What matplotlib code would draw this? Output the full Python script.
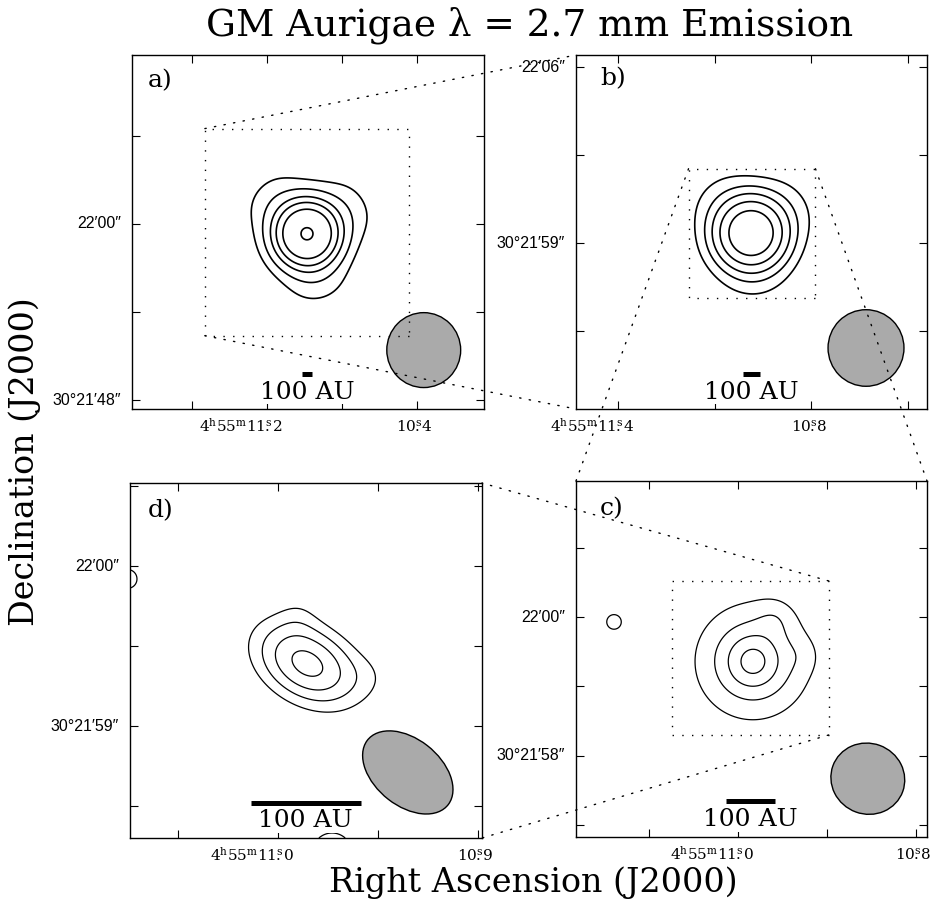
import numpy as np
import matplotlib
matplotlib.use("Agg")
import matplotlib.pyplot as plt
from matplotlib.patches import Ellipse, Rectangle, ConnectionPatch

plt.rcParams["mathtext.fontset"] = "dejavuserif"
plt.rcParams["font.family"] = "DejaVu Serif"
SERIF = "DejaVu Serif"
SANS = ["Liberation Sans", "DejaVu Sans"]

# reference position 4h55m11.0s +30d21'59"; offsets in arcsec (east, north)
ra_ref = 11.0
dec_ref = 59.0
cos_dec = np.cos(np.radians(30 + 21 / 60 + 59 / 3600))
au_bar = 100 / 140.0   # 100 AU at 140 pc
star_x = -0.18

# field of view of each panel (arcsec offsets)
xlim_a, ylim_a = [11.9, -12.4], [-11.6, 12.5]
xlim_b, ylim_b = [6.87, -7.23], [-6.61, 7.49]
xlim_c, ylim_c = [2.35, -2.75], [-2.17, 2.96]
xlim_d, ylim_d = [0.957, -1.32], [-0.70, 1.52]

# ticks: RA in seconds of 4h55m, Dec in arcsec past 30d21'
HMS = r"4$^{\mathrm{h}}$55$^{\mathrm{m}}$11"
ra_ticks_a = [11.6, 11.2, 10.8, 10.4]
ra_labels_a = {11.2: (HMS, "2"), 10.4: ("10", "4")}
dec_ticks_a = [66, 60, 54, 48]
dec_labels_a = {60: "22′00″", 48: "30°21′48″"}

ra_ticks_b = [11.4, 11.1, 10.8, 10.5]
ra_labels_b = {11.4: (HMS, "4"), 10.8: ("10", "8")}
dec_ticks_b = [66, 62.5, 59, 55.5]
dec_labels_b = {66: "22′06″", 59: "30°21′59″"}

ra_ticks_c = [11.1, 11.0, 10.9, 10.8]
ra_labels_c = {11.0: (HMS, "0"), 10.8: ("10", "8")}
dec_ticks_c = [61, 60, 59, 58, 57]
dec_labels_c = {60: "22′00″", 58: "30°21′58″"}

ra_ticks_d = [11.05, 11.0, 10.95, 10.9]
ra_labels_d = {11.0: (HMS, "0"), 10.9: ("10", "9")}
dec_ticks_d = [60.5, 60, 59.5, 59, 58.5]
dec_labels_d = {60: "22′00″", 59: "30°21′59″"}

# emission model: (amp, x0, y0, sigma_major, sigma_minor, angle)
comps_a = [(10.0, -0.18, 0.33, 1.8, 1.8, 0),
           (1.0, 2.84, 3.25, 2.2, 1.2, 134),
           (1.0, -3.78, 2.49, 2.2, 1.2, 239),
           (1.0, -1.05, -3.78, 2.2, 1.2, 348)]
levels_a = [1.45, 2.55, 3.85, 5.05, 6.55, 9.75]

comps_b = [(10.0, -0.16, 0.40, 1.15, 1.15, 0),
           (0.67, 1.66, 2.26, 1.35, 0.75, 135.6),
           (0.67, -2.30, 1.87, 1.35, 0.75, 235.5),
           (0.55, -0.37, -2.10, 1.35, 0.75, 355)]
levels_b = [1.62, 2.8, 4.05, 5.6, 7.45]

comps_c = [(1.85, -0.22, 0.36, 0.274, 0.274, 0),
           (3.57, -0.22, 0.36, 0.775, 0.775, 0),
           (0.65, -0.55, 1.00, 0.20, 0.20, 0),
           (0.35, -0.95, 0.45, 0.18, 0.18, 0),
           (2.8, 1.80, 0.93, 0.12, 0.12, 0)]
levels_c = [2, 3, 4, 5]

comps_d = [(5.34, -0.19, 0.39, 0.29, 0.19, 28),
           (0.6, -0.64, 0.32, 0.12, 0.12, 0),
           (0.6, -0.14, 0.73, 0.10, 0.10, 0),
           (2.7, 0.97, 0.92, 0.075, 0.075, 0),
           (2.8, -0.35, -0.80, 0.16, 0.16, 0)]
levels_d = [2, 3, 4, 5]

# synthesized beams: (x, y, major, minor, angle)
beam_a = (-8.24, -7.59, 5.1, 5.1, 0)
beam_b = (-4.78, -4.18, 3.05, 3.05, 0)
beam_c = (-1.89, -1.33, 1.08, 1.02, 20)
beam_d = (-0.84, -0.29, 0.66, 0.42, 37)


def ra_x(sec):
    return (np.asarray(sec, float) - ra_ref) * 15 * cos_dec


def dec_y(arcsec):
    return np.asarray(arcsec, float) - dec_ref


def sky(X, Y, comps):
    Z = np.zeros_like(X)
    for amp, x0, y0, smaj, smin, ang in comps:
        t = np.radians(ang)
        u = (X - x0) * np.cos(t) + (Y - y0) * np.sin(t)
        v = -(X - x0) * np.sin(t) + (Y - y0) * np.cos(t)
        Z += amp * np.exp(-0.5 * (u ** 2 / smaj ** 2 + v ** 2 / smin ** 2))
    return Z


W, H = 933, 907
fig = plt.figure(figsize=(W / 100, H / 100), dpi=100)


def rect(l, t, r, b):
    return [l / W, 1 - b / H, (r - l) / W, (b - t) / H]


def panel(r, xlim, ylim, comps, levels, lw, beam, ra_ticks, ra_labels,
          dec_ticks, dec_labels, tag, tag_xy):
    ax = fig.add_axes(r)
    x = np.linspace(min(xlim), max(xlim), 400)
    y = np.linspace(min(ylim), max(ylim), 400)
    X, Y = np.meshgrid(x, y)
    ax.contour(X, Y, sky(X, Y, comps), levels=levels, colors="k",
               linewidths=lw, linestyles="solid")
    bx, by, bw, bh, ba = beam
    ax.add_patch(Ellipse((bx, by), bw, bh, angle=ba, fc="#aaaaaa",
                         ec="k", lw=1.0))
    ax.set_xlim(xlim)
    ax.set_ylim(ylim)
    ax.set_xticks(ra_x(ra_ticks))
    ax.set_yticks(dec_y(dec_ticks))
    ax.tick_params(direction="in", top=True, right=True, length=5.5,
                   width=0.8, labelbottom=False, labelleft=False)
    for s in ax.spines.values():
        s.set_linewidth(1.0)

    # "11s.2" style: seconds mark raised above the decimal point
    for sec, (head, frac) in ra_labels.items():
        label = head + r"$^{\mathrm{s}}\!\!\!.$" + frac
        ax.annotate(label, xy=(ra_x(sec), 0), xycoords=("data", "axes fraction"),
                    xytext=(11.5, -16.5), textcoords="offset points",
                    ha="right", va="baseline", family=SERIF, fontsize=11,
                    annotation_clip=False)
    for dec, txt in dec_labels.items():
        ax.annotate(txt, xy=(0, dec_y(dec)), xycoords=("axes fraction", "data"),
                    xytext=(-8, 0), textcoords="offset points", ha="right",
                    va="center", family=SANS, fontsize=11.5,
                    annotation_clip=False)

    tr = ax.get_xaxis_transform()
    ax.plot([star_x - au_bar / 2, star_x + au_bar / 2], [0.1, 0.1],
            transform=tr, color="k", lw=3.6, solid_capstyle="butt")
    ax.text(star_x, 0.048, "100 AU", transform=tr, ha="center", va="center",
            fontsize=18, bbox=dict(fc="white", ec="none", pad=0.5))
    ax.text(tag_xy[0], tag_xy[1], tag, transform=ax.transAxes, ha="left",
            va="center", fontsize=18)
    return ax


ax_a = panel(rect(132, 55, 484, 409), xlim_a, ylim_a, comps_a, levels_a, 1.2,
             beam_a, ra_ticks_a, ra_labels_a, dec_ticks_a, dec_labels_a,
             "a)", (0.045, 0.927))
ax_b = panel(rect(576, 55, 927, 409), xlim_b, ylim_b, comps_b, levels_b, 1.2,
             beam_b, ra_ticks_b, ra_labels_b, dec_ticks_b, dec_labels_b,
             "b)", (0.068, 0.932))
ax_c = panel(rect(576, 481, 927, 837), xlim_c, ylim_c, comps_c, levels_c, 0.9,
             beam_c, ra_ticks_c, ra_labels_c, dec_ticks_c, dec_labels_c,
             "c)", (0.068, 0.921))
ax_d = panel(rect(130, 483, 482, 838), xlim_d, ylim_d, comps_d, levels_d, 0.9,
             beam_d, ra_ticks_d, ra_labels_d, dec_ticks_d, dec_labels_d,
             "d)", (0.051, 0.921))

dots = (0, (1, 6))


def zoom_box(ax, xl, yl):
    ax.add_patch(Rectangle((min(xl), min(yl)), abs(xl[0] - xl[1]),
                           yl[1] - yl[0], fill=False, ls=dots, lw=1.0))


def link(axA, xyA, axB, xyB):
    fig.add_artist(ConnectionPatch(xyA=xyA, coordsA="data", axesA=axA,
                                   xyB=xyB, coordsB="axes fraction",
                                   axesB=axB, ls=dots, lw=1.0, color="k"))


zoom_box(ax_a, xlim_b, ylim_b)
zoom_box(ax_b, xlim_c, ylim_c)
zoom_box(ax_c, xlim_d, ylim_d)
link(ax_a, (xlim_b[0], ylim_b[1]), ax_b, (0, 1))
link(ax_a, (xlim_b[0], ylim_b[0]), ax_b, (0, 0))
link(ax_b, (xlim_c[0], ylim_c[1]), ax_c, (0, 1))
link(ax_b, (xlim_c[1], ylim_c[1]), ax_c, (1, 1))
link(ax_c, (xlim_d[1], ylim_d[1]), ax_d, (1, 1))
link(ax_c, (xlim_d[1], ylim_d[0]), ax_d, (1, 0))

fig.text(530 / W, 1 - 35 / H, "GM Aurigae λ = 2.7 mm Emission", ha="center",
         va="baseline", fontsize=27, family=SERIF)
fig.text(533 / W, 1 - 892 / H, "Right Ascension (J2000)", ha="center",
         va="baseline", fontsize=24, family=SERIF)
fig.text(25 / W, 1 - 462 / H, "Declination (J2000)", rotation=90, ha="center",
         va="center", fontsize=24, family=SERIF)

fig.savefig("out.png", dpi=100)
